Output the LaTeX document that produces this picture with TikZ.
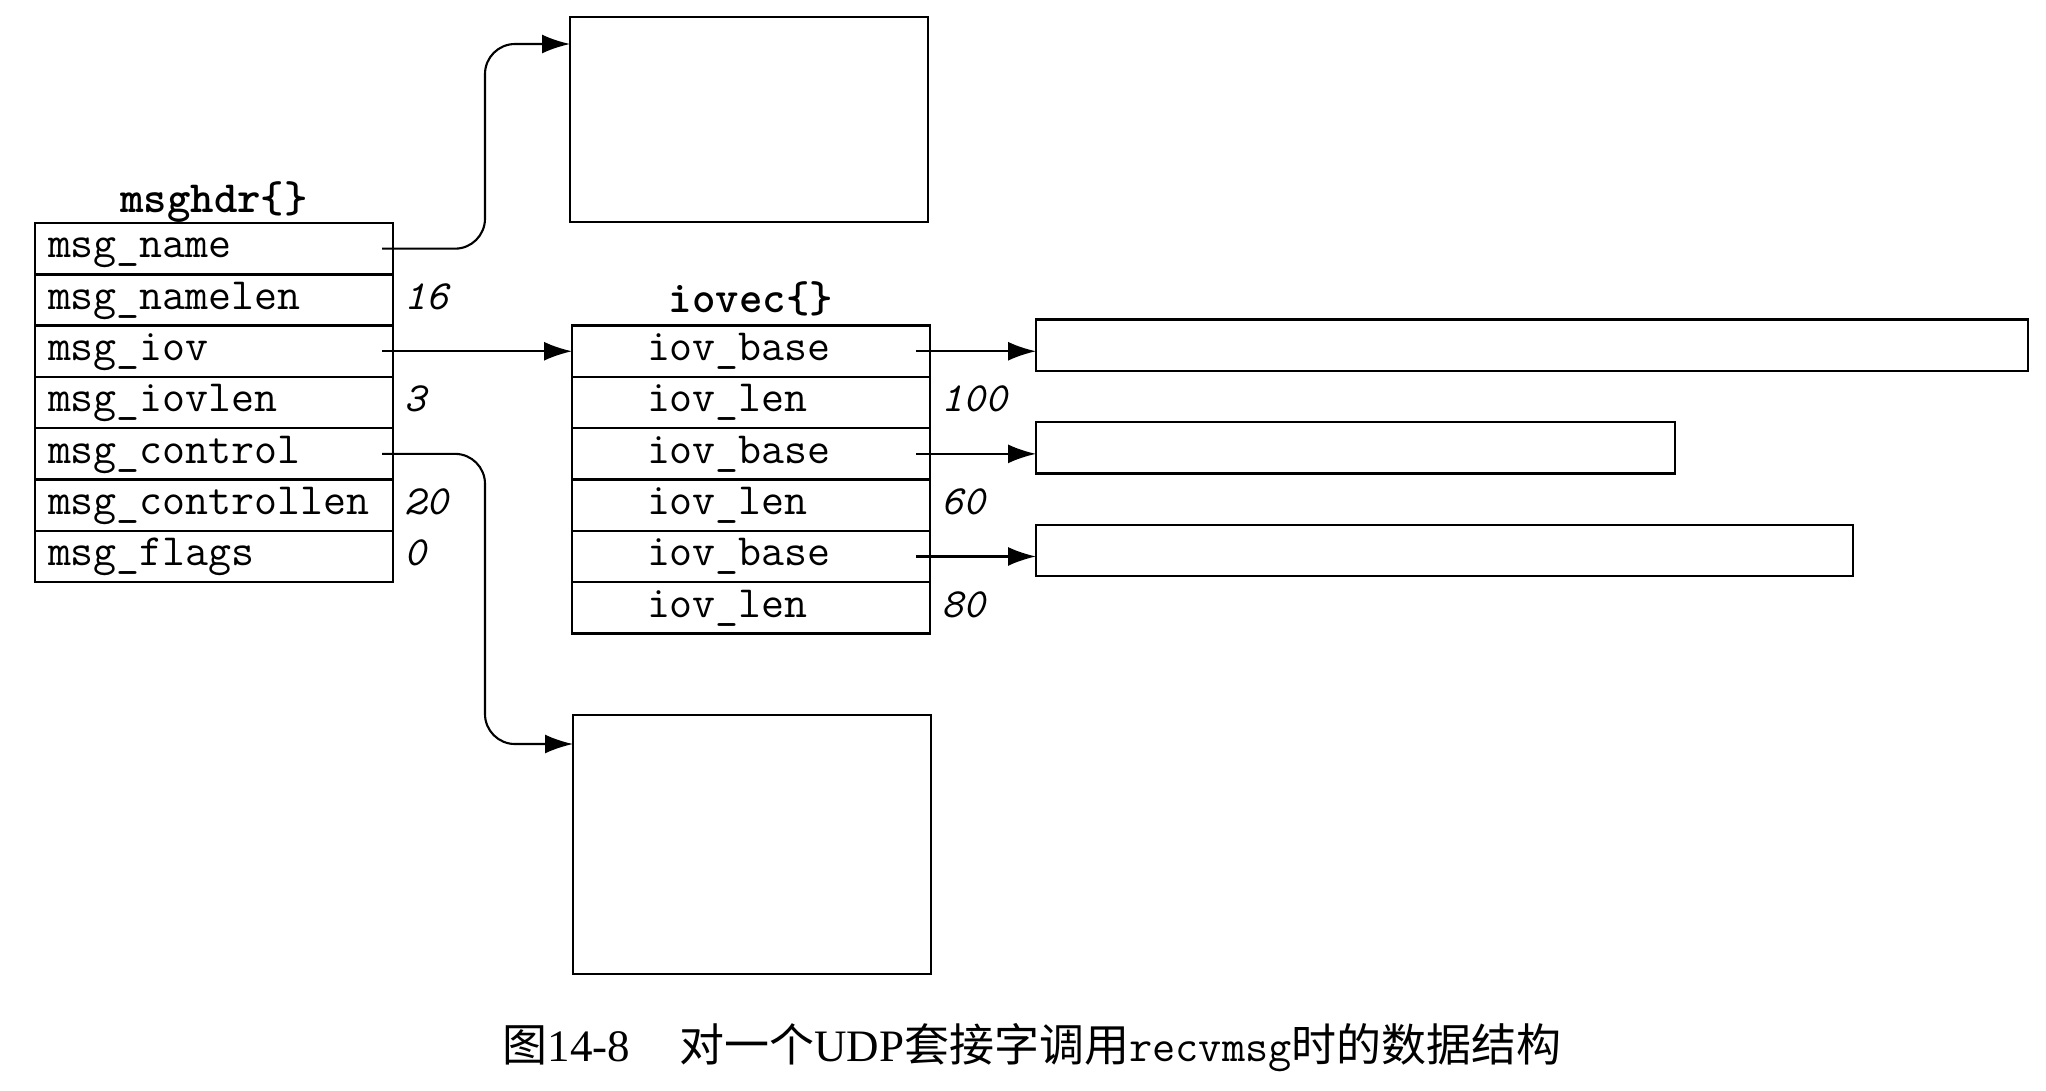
\documentclass[tikz,border=0pt]{standalone}
\usepackage{fontspec}
\setmainfont{Liberation Serif}
\newfontfamily\cjk{Noto Sans CJK SC}
\usetikzlibrary{positioning,arrows.meta}

\newcommand{\fieldfont}{\ttfamily\fontsize{12.7}{15}\selectfont}

\tikzset{
  field/.style={draw, line width=0.7pt, outer sep=0pt, minimum width=3.58cm, minimum height=0.513cm,
    inner ysep=0pt, inner xsep=0.13cm, text width=3.32cm, align=left,
    text height=0.8em, text depth=0.27em, font=\fieldfont},
  vfield/.style={field, inner xsep=0.75cm, text width=2.08cm},
  val/.style={inner xsep=0.11cm, inner ysep=0pt, text height=0.8em, text depth=0.27em,
    font=\ttfamily\fontsize{11.8}{14}\selectfont\itshape},
  head/.style={inner sep=0pt, text height=0.8em, text depth=0.27em, font=\fieldfont\bfseries},
  buf/.style={draw, line width=0.7pt, outer sep=0pt, minimum height=0.513cm},
  link/.style={line width=0.6pt, -{Latex[length=0.28cm,width=0.19cm]}},
}

\begin{document}
\begin{tikzpicture}
    \useasboundingbox (0,0) rectangle (20.46,-10.90);

    % msghdr{}
    \node[field, anchor=north west] (mname) at (0.35,-2.23) {msg\_name};
    \node[field, below=0pt of mname] (mnamelen) {msg\_namelen};
    \node[field, below=0pt of mnamelen] (miov) {msg\_iov};
    \node[field, below=0pt of miov] (miovlen) {msg\_iovlen};
    \node[field, below=0pt of miovlen] (mctl) {msg\_control};
    \node[field, below=0pt of mctl] (mctllen) {msg\_controllen};
    \node[field, below=0pt of mctllen] (mflags) {msg\_flags};
    \node[head, above=0.0cm of mname] (hdrtitle) {msghdr\{\}};

    \node[val, right=0pt of mnamelen] (vnamelen) {16};
    \node[val, right=0pt of miovlen] (viovlen) {3};
    \node[val, right=0pt of mctllen] (vctllen) {20};
    \node[val, right=0pt of mflags] (vflags) {0};

    % iovec{}
    \node[vfield, right=1.79cm of miov] (vbase1) {iov\_base};
    \node[vfield, below=0pt of vbase1] (vlen1) {iov\_len};
    \node[vfield, below=0pt of vlen1] (vbase2) {iov\_base};
    \node[vfield, below=0pt of vbase2] (vlen2) {iov\_len};
    \node[vfield, below=0pt of vlen2] (vbase3) {iov\_base};
    \node[vfield, below=0pt of vbase3] (vlen3) {iov\_len};
    \node[head, above=0.03cm of vbase1] (vectitle) {iovec\{\}};

    \node[val, right=0pt of vlen1] (vvlen1) {100};
    \node[val, right=0pt of vlen2] (vvlen2) {60};
    \node[val, right=0pt of vlen3] (vvlen3) {80};

    % buffers
    \node[buf, minimum width=9.92cm, right=1.06cm of vbase1, yshift=0.06cm] (buf1) {};
    \node[buf, minimum width=6.39cm, right=1.06cm of vbase2, yshift=0.06cm] (buf2) {};
    \node[buf, minimum width=8.17cm, right=1.06cm of vbase3, yshift=0.06cm] (buf3) {};

    \node[buf, minimum width=3.58cm, minimum height=2.05cm, anchor=north west] (namebox) at (5.70,-0.17) {};
    \node[buf, minimum width=3.58cm, minimum height=2.59cm, anchor=north west] (ctlbox) at (5.73,-7.15) {};

    % pointers
    \draw[link, rounded corners=0.3cm] ([xshift=-0.11cm]mname.east)
        -| ([xshift=-0.85cm,yshift=-0.27cm]namebox.north west) -- ([yshift=-0.27cm]namebox.north west);
    \draw[link] ([xshift=-0.11cm]miov.east) -- (vbase1.west);
    \draw[link, rounded corners=0.3cm] ([xshift=-0.11cm]mctl.east)
        -| ([xshift=-0.88cm,yshift=-0.29cm]ctlbox.north west) -- ([yshift=-0.29cm]ctlbox.north west);
    \foreach \i in {1,2,3}
        \draw[link] ([xshift=-0.14cm]vbase\i.east) -- (vbase\i.east -| buf\i.west);

    \node[font=\fontsize{12.8}{15}\selectfont] (caption) at (10.32,-10.48)
        {{\cjk 图}14-8\hspace{1.1em}{\cjk 对一个}UDP{\cjk 套接字调用}{\ttfamily recvmsg}{\cjk 时的数据结构}};
\end{tikzpicture}
\end{document}
